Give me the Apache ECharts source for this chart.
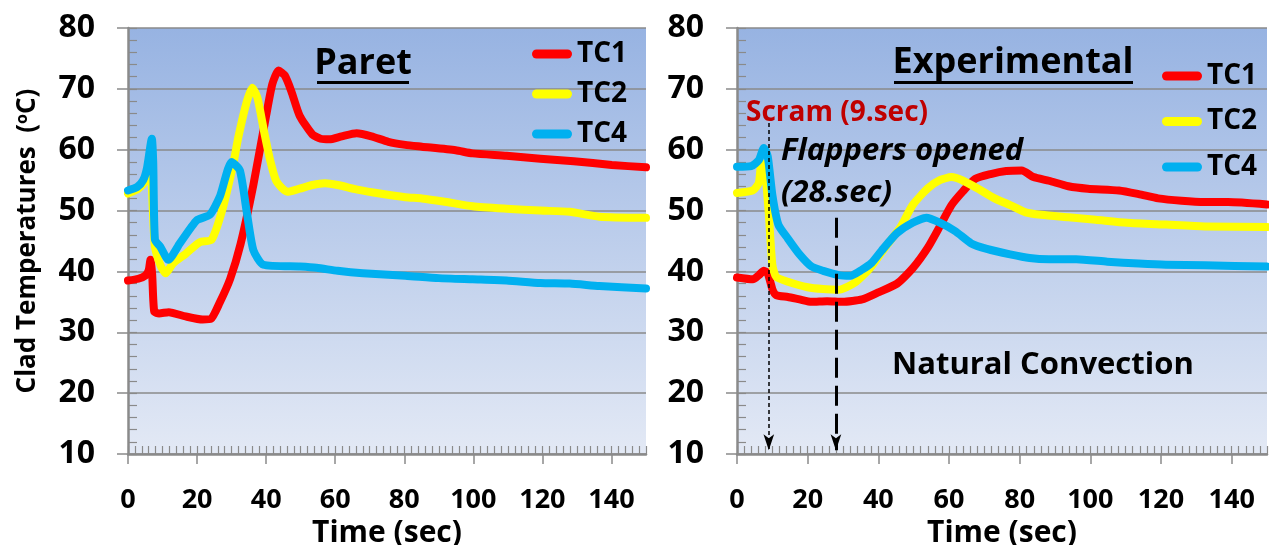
<!DOCTYPE html>
<html>
<head>
<meta charset="utf-8">
<script src="https://cdn.jsdelivr.net/npm/echarts@6/dist/echarts.min.js"></script>
<style>
  html, body { margin: 0; padding: 0; background: #ffffff; }
  #chart { width: 1269px; height: 545px; }
</style>
</head>
<body>
<div id="chart"></div>
<script>
// Clad temperature transients: [time (s), temperature (°C)]
const paretTC1 = [[0,38.5],[3,38.8],[5,39.3],[6,40.2],[6.5,41.9],[7.0,39.5],[7.6,33.4],[9,33.1],[11.8,33.3],[16.7,32.6],[21.6,32.1],[24,32.2],[26.5,34.8],[29.6,38.8],[32.6,44.5],[36.3,54.2],[40,65.6],[41.8,70.8],[43.6,73],[45.4,72.2],[47.3,69.6],[49.7,65.6],[53.4,62.5],[55.8,61.8],[58.3,61.7],[61.9,62.2],[66.2,62.7],[70.5,62.2],[75.4,61.3],[80.3,60.8],[85.1,60.5],[94.9,59.9],[99.8,59.4],[109.6,59],[119.4,58.5],[129.1,58.1],[140.1,57.5],[150,57.1]];
const paretTC2 = [[0,52.8],[3,53.6],[5,54.8],[6.5,56.5],[7.2,50],[7.8,44.1],[9.4,41],[10.9,39.7],[13,41.3],[16.7,42.9],[20.8,44.8],[24.2,45.2],[27.3,50.1],[30.5,57.7],[32,62.2],[34.4,67.9],[36,70.2],[37.5,68.5],[39.3,63.3],[41.2,58.2],[43,54.8],[46.1,53.1],[49.7,53.6],[53.4,54.2],[57,54.5],[60.7,54.2],[66.8,53.4],[72.9,52.8],[80.3,52.2],[85.1,52],[91.3,51.5],[99.8,50.7],[109.6,50.3],[119.4,50],[127.9,49.8],[136.5,49],[150,48.8]];
const paretTC4 = [[0,53.3],[2.7,53.9],[4.4,55],[5.5,57],[6.9,61.8],[7.3,58],[7.8,45.2],[9.3,44.1],[11.7,41.9],[15,44.6],[19.9,48.4],[23.7,49.3],[26.6,52.3],[30,58],[32.4,56.6],[34.3,50.1],[36.3,43.5],[39.2,41.1],[49.8,40.8],[54.6,40.6],[60.7,40.1],[68,39.7],[80.3,39.3],[90,38.9],[99.8,38.7],[109.6,38.5],[119.4,38.1],[127.9,38],[136.5,37.6],[150,37.2]];

const expTC1 = [[0,39],[4.5,38.7],[6.2,39.4],[7.6,40.1],[8.7,39.7],[10,37.1],[11.1,36.1],[14.4,35.8],[17.7,35.4],[21.1,35],[25.5,35.1],[29.9,35],[35.4,35.4],[39.8,36.5],[45.3,38],[49.7,40.5],[54.1,44],[57.4,47.4],[60.7,50.9],[64,53.2],[67.4,55.2],[71.8,56],[76.2,56.5],[80.6,56.6],[83.9,55.5],[88.3,54.9],[93.8,54],[99.3,53.6],[108.1,53.3],[113.7,52.7],[119.2,52],[125.8,51.6],[132.4,51.4],[139,51.4],[150,51]];
const expTC2 = [[0,52.9],[4.5,53.3],[6.2,54.6],[6.9,57.8],[7.8,57.2],[8.9,50.3],[10,41.1],[11.1,39.1],[14.4,38.3],[20,37.4],[24.4,37.1],[28.8,37],[33.2,38.1],[37.6,40.5],[42,44],[46.4,47.4],[49.7,50.9],[54.1,53.7],[57.4,55],[60.7,55.5],[64,54.9],[68.5,53.5],[72.9,52],[77.3,50.9],[81.7,49.7],[86.1,49.3],[93.8,48.9],[101.5,48.5],[110.4,48],[121.4,47.7],[132.4,47.4],[150,47.3]];
const expTC4 = [[0,57.2],[4,57.3],[6.2,58.3],[7.6,60.3],[8.7,58.9],[10,52.6],[11.7,47.7],[14.4,45.4],[17.7,42.8],[21.1,40.8],[24.4,40.1],[28.8,39.4],[32.1,39.3],[35.4,40.3],[38.1,41.4],[40.9,43.4],[45.3,46.3],[49.7,48],[53.6,48.8],[57.4,48],[61.8,46.6],[66.3,44.6],[70.7,43.7],[77.3,42.8],[82.8,42.2],[88.3,42],[96,42],[104.8,41.6],[113.7,41.3],[121.4,41.1],[132.4,41],[150,40.8]];

// Event markers (s) and the temperature where each arrow starts
const scramTime = 9;
const flapperTime = 28;
const scramArrowTop = 64.4;
const flapperArrowTop = 48.8;

// Axis ticks
const timeTicks = [0, 20, 40, 60, 80, 100, 120, 140];
const seriesNames = ['TC1', 'TC2', 'TC4'];
const seriesColors = ['#ff0000', '#ffff00', '#00b0f0'];

const FONT = '"Open Sans", "Liberation Sans", sans-serif';
const GRID_GRAY = '#8a8a8a';

const bg = new echarts.graphic.LinearGradient(0, 0, 0, 1, [
  { offset: 0, color: '#97b3e2' },
  { offset: 1, color: '#e3e9f5' }
]);

function mainX(gridIndex) {
  return {
    gridIndex, type: 'value', min: 0, max: 150, interval: 20, position: 'bottom',
    axisLine: { show: true, onZero: false, lineStyle: { color: GRID_GRAY, width: 2.5 } },
    axisTick: { show: true, inside: false, length: 10, customValues: timeTicks,
      lineStyle: { color: GRID_GRAY, width: 1.5 } },
    axisLabel: { customValues: timeTicks, margin: 33, color: '#000', fontSize: 27,
      fontWeight: 'bold', fontFamily: FONT },
    splitLine: { show: false },
    name: 'Time (sec)', nameLocation: 'middle', nameGap: 57,
    nameTextStyle: { color: '#000', fontSize: 30, fontWeight: 'bold', fontFamily: FONT }
  };
}
function minorX(gridIndex) {
  return {
    gridIndex, type: 'value', min: 0, max: 150, interval: 2, position: 'bottom',
    axisLine: { show: false, onZero: false },
    axisTick: { show: true, inside: true, length: 8, lineStyle: { color: GRID_GRAY, width: 1.2 } },
    axisLabel: { show: false }, splitLine: { show: false }
  };
}
function mainY(gridIndex, withName) {
  const ax = {
    gridIndex, type: 'value', min: 10, max: 80, interval: 10, position: 'left',
    axisLine: { show: true, onZero: false, lineStyle: { color: GRID_GRAY, width: 2.5 } },
    axisTick: { show: true, inside: false, length: 11, lineStyle: { color: GRID_GRAY, width: 1.5 } },
    axisLabel: { margin: 33, color: '#000', fontSize: 32, fontWeight: 'bold', fontFamily: FONT },
    splitLine: { show: true, lineStyle: { color: GRID_GRAY, width: 1.5 } }
  };
  if (withName) {
    ax.name = 'Clad Temperatures  ({sup|o}C)';
    ax.nameLocation = 'middle';
    ax.nameGap = 86;
    ax.nameTextStyle = {
      color: '#000', fontSize: 26, fontWeight: 'bold', fontFamily: FONT,
      rich: { sup: { fontSize: 16, fontWeight: 'bold', fontFamily: FONT, color: '#000',
        padding: [0, 0, 12, 0] } }
    };
  }
  return ax;
}
function minorY(gridIndex) {
  return {
    gridIndex, type: 'value', min: 10, max: 80, interval: 2, position: 'left',
    axisLine: { show: false, onZero: false },
    axisTick: { show: true, inside: true, length: 9, lineStyle: { color: GRID_GRAY, width: 1.2 } },
    axisLabel: { show: false }, splitLine: { show: false }
  };
}

function lineSeries(name, color, data, axisIndex) {
  return {
    name, type: 'line', data, xAxisIndex: axisIndex, yAxisIndex: axisIndex,
    showSymbol: false, symbol: 'none', smooth: 0.2,
    lineStyle: { color, width: 8, cap: 'round', join: 'round' },
    itemStyle: { color }
  };
}

const legendIcon = 'path://M4.5,0H35.5A4.5,4.5,0,0,1,35.5,9H4.5A4.5,4.5,0,0,1,4.5,0Z';
function legendAt(left, top, gap) {
  return {
    orient: 'vertical', left, top, itemGap: gap, padding: 0,
    itemWidth: 40, itemHeight: 9, icon: legendIcon, selectedMode: false,
    data: seriesNames,
    textStyle: { color: '#000', fontSize: 28, fontWeight: 'bold', fontFamily: FONT, lineHeight: 30 }
  };
}

const expSeries = [
  lineSeries('TC1', seriesColors[0], expTC1, 2),
  lineSeries('TC2', seriesColors[1], expTC2, 2),
  lineSeries('TC4', seriesColors[2], expTC4, 2)
];
// Event arrows drawn on the experimental panel
expSeries[2].markLine = {
  silent: true, animation: false, z: 10,
  symbol: ['none', 'arrow'],
  label: { show: false },
  data: [
    [ { coord: [scramTime, scramArrowTop], symbolSize: 10,
        lineStyle: { color: '#000', width: 1.5, type: [4, 3] } },
      { coord: [scramTime, 10.6] } ],
    [ { coord: [flapperTime, flapperArrowTop], symbolSize: 13,
        lineStyle: { color: '#000', width: 3, type: [20, 8] } },
      { coord: [flapperTime, 10.6] } ]
  ]
};

const option = {
  animation: false,
  backgroundColor: '#ffffff',
  grid: [
    { left: 128, top: 28, width: 518, height: 426, show: true, borderWidth: 0,
      backgroundColor: bg, outerBoundsMode: 'none', containLabel: false },
    { left: 737, top: 28, width: 530, height: 426, show: true, borderWidth: 0,
      backgroundColor: bg, outerBoundsMode: 'none', containLabel: false }
  ],
  xAxis: [ mainX(0), minorX(0), mainX(1), minorX(1) ],
  yAxis: [ mainY(0, true), minorY(0), mainY(1, false), minorY(1) ],
  legend: [ legendAt(532, 39, 10), legendAt(1162, 61, 15.5) ],
  series: [
    lineSeries('TC1', seriesColors[0], paretTC1, 0),
    lineSeries('TC2', seriesColors[1], paretTC2, 0),
    lineSeries('TC4', seriesColors[2], paretTC4, 0),
    ...expSeries
  ],
  graphic: [
    { type: 'text', x: 363, y: 64, z: 20,
      style: { text: 'Paret', font: 'bold 36px ' + FONT, fill: '#000', align: 'center', verticalAlign: 'middle' } },
    { type: 'rect', z: 20, shape: { x: 317, y: 81, width: 92, height: 3 }, style: { fill: '#000' } },
    { type: 'text', x: 1013, y: 63, z: 20,
      style: { text: 'Experimental', font: 'bold 36px ' + FONT, fill: '#000', align: 'center', verticalAlign: 'middle' } },
    { type: 'rect', z: 20, shape: { x: 894, y: 81, width: 239, height: 3 }, style: { fill: '#000' } },
    { type: 'text', x: 746, y: 113, z: 20,
      style: { text: 'Scram (9.sec)', font: 'bold 28px ' + FONT, fill: '#c00000', align: 'left', verticalAlign: 'middle' } },
    { type: 'text', x: 781, y: 151, z: 20,
      style: { text: 'Flappers opened', font: 'italic bold 31px ' + FONT, fill: '#000', align: 'left', verticalAlign: 'middle' } },
    { type: 'text', x: 781, y: 193, z: 20,
      style: { text: '(28.sec)', font: 'italic bold 31px ' + FONT, fill: '#000', align: 'left', verticalAlign: 'middle' } },
    { type: 'text', x: 892, y: 365, z: 20,
      style: { text: 'Natural Convection', font: 'bold 31px ' + FONT, fill: '#000', align: 'left', verticalAlign: 'middle' } }
  ]
};

const chart = echarts.init(document.getElementById('chart'), null, { renderer: 'canvas' });
chart.setOption(option);
</script>
</body>
</html>
